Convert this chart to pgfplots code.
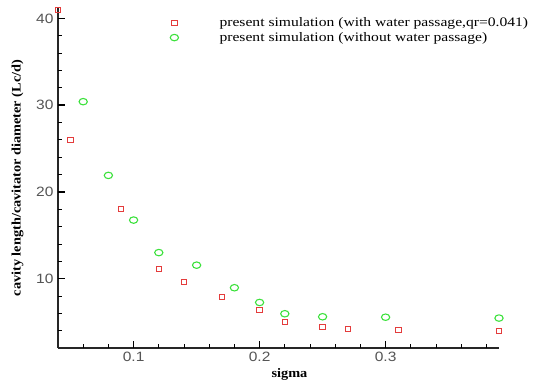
\documentclass[border=0pt]{standalone}
\usepackage{fontspec}
\setmainfont{Liberation Serif}
\newfontfamily\tickfont[FakeStretch=1.15]{Liberation Sans}
\newfontfamily\labfont[FakeStretch=1.1]{Liberation Serif}
\newfontfamily\legfont[FakeStretch=1.20]{Liberation Serif}
\usepackage{pgfplots}
\pgfplotsset{compat=1.18}

\definecolor{simred}{RGB}{228,60,60}
\definecolor{simgreen}{RGB}{60,225,60}
\definecolor{tickgray}{RGB}{85,85,85}

% cavity length vs. cavitation number
\pgfplotstableread{
sigma Lc
0.04  41.0
0.05  26.0
0.09  18.0
0.12  11.1
0.14  9.6
0.17  7.9
0.20  6.4
0.22  5.0
0.25  4.4
0.27  4.2
0.31  4.1
0.39  3.95
}\withpassage

\pgfplotstableread{
sigma Lc
0.06  30.4
0.08  21.9
0.10  16.75
0.12  13.0
0.15  11.55
0.18  8.95
0.20  7.25
0.22  5.95
0.25  5.6
0.30  5.55
0.39  5.45
}\withoutpassage

\begin{document}
\begin{tikzpicture}
\begin{axis}[
  scale only axis,
  width=441bp, height=340bp,
  xmin=0.04, xmax=0.39,
  ymin=2, ymax=41.2,
  clip=false,
  axis x line=bottom, axis y line=left,
  axis line style={-, line width=1.3pt, black!85},
  xtick={0.1,0.2,0.3},
  ytick={10,20,30,40},
  major tick length=0pt,
  tick label style={font=\tickfont\fontsize{13.5bp}{14bp}\selectfont, text=tickgray},
  /pgf/number format/assume math mode=true,
  xticklabel style={yshift=-1bp},
  yticklabel style={xshift=-1bp},
  xlabel={\textbf{sigma}},
  ylabel={\textbf{cavity length/cavitator diameter (Lc/d)}},
  label style={font=\labfont\fontsize{13bp}{14bp}\selectfont},
  xlabel style={at={(rel axis cs:0.5,0)}, anchor=north, xshift=11bp, yshift=-17bp},
  ylabel style={yshift=6bp},
  legend cell align=left,
  legend style={draw=none, fill=none, inner sep=0pt, row sep=0.5bp,
    at={(rel axis cs:0.1655,0.979)}, anchor=north west,
    font=\legfont\fontsize{13bp}{14bp}\selectfont},
  legend image code/.code={%
    \path (0bp,0bp) (86bp,0bp);
    \draw[#1] plot coordinates {(43bp,0bp)};},
]
% tick marks on the inner side of both axis lines
\pgfplotsinvokeforeach{0.1,0.2,0.3}{
  \draw[black, line width=1.3pt] (axis cs:#1,2) -- ++(0bp,7bp);}
\pgfplotsinvokeforeach{0.06,0.08,0.12,0.14,0.16,0.18,0.22,0.24,0.26,0.28,0.32,0.34,0.36,0.38}{
  \draw[black, line width=0.8pt] (axis cs:#1,2) -- ++(0bp,4bp);}
\pgfplotsinvokeforeach{10,20,30,40}{
  \draw[black, line width=1.3pt] (axis cs:0.04,#1) -- ++(7bp,0bp);}
\pgfplotsinvokeforeach{4,6,8,12,14,16,18,22,24,26,28,32,34,36,38}{
  \draw[black, line width=0.8pt] (axis cs:0.04,#1) -- ++(4bp,0bp);}
\addplot[only marks, mark=square, mark size=2.8bp,
  mark options={simred, line width=0.9pt, yscale=0.9}]
  table[x=sigma, y=Lc] {\withpassage};
\addlegendentry{present simulation (with water passage,qr=0.041)}
\addplot[only marks, mark=o, mark size=3.6bp,
  mark options={simgreen, line width=1.1pt, xscale=1.15, yscale=0.9}]
  table[x=sigma, y=Lc] {\withoutpassage};
\addlegendentry{present simulation (without water passage)}
\end{axis}
\pgfresetboundingbox
\path[use as bounding box] (-58bp,-32bp) rectangle (475bp,348bp);
\end{tikzpicture}
\end{document}
